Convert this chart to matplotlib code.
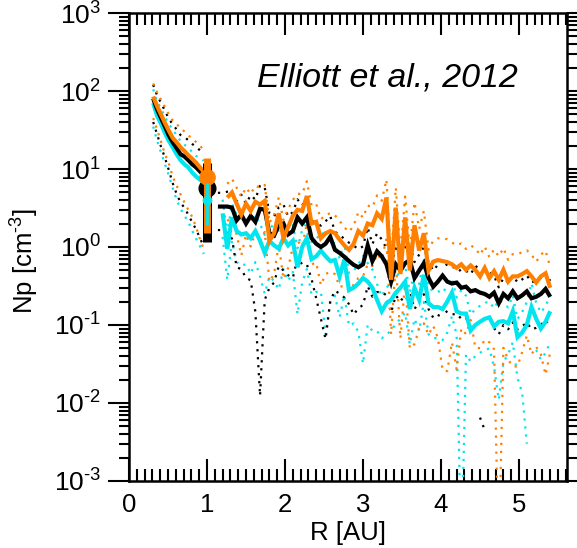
import numpy as np
import matplotlib
matplotlib.use('Agg')
import matplotlib.pyplot as plt
from matplotlib.ticker import LogLocator, MultipleLocator, FixedLocator, NullFormatter

plt.rcParams['font.family'] = ['Liberation Sans', 'DejaVu Sans']
plt.rcParams['mathtext.fontset'] = 'custom'
plt.rcParams['mathtext.rm'] = 'Liberation Sans'
plt.rcParams['mathtext.it'] = 'Liberation Sans:italic'
plt.rcParams['mathtext.default'] = 'regular'

nan = np.nan

# ---------------- data ----------------
# inner heliosphere segment
R_in = [0.31, 0.36, 0.41, 0.46, 0.51, 0.56, 0.61, 0.66, 0.71, 0.76, 0.81, 0.86, 0.91, 0.96]
orange_in = [85, 64, 50, 39, 31, 25, 22, 19, 17, 15, 13.5, 12, 10.5, 9.2]
black_in = [80, 58, 45, 35, 27, 22, 18.5, 15.5, 14.5, 13, 11.5, 10.5, 9.3, 8.3]
cyan_in = [70, 48, 38, 29, 23, 19, 15.5, 13, 11.5, 10.5, 9, 8, 7.3, 6.8]
orange_in_rel = [0.47, 0.5, 0.55, 0.6, 0.62, 0.68, 0.72, 0.75, 0.78, 0.8, 0.82, 0.85, 0.88, 0.9]
black_in_rel = [0.5, 0.52, 0.57, 0.6, 0.64, 0.7, 0.74, 0.76, 0.78, 0.8, 0.82, 0.84, 0.86, 0.88]
cyan_in_rel = [0.5, 0.52, 0.57, 0.6, 0.64, 0.7, 0.74, 0.76, 0.78, 0.8, 0.82, 0.84, 0.86, 0.88]

# values at 1 AU (centre, low, high)
R_1au = 1.0
black_1au = [5.7, 1.17, 12.0]
orange_1au = [8.0, 1.5, 13.8]
cyan_1au = [4.0, 1.9, 6.7]

# outer segment
R_out = [1.14, 1.20, 1.26, 1.32, 1.38, 1.44, 1.50, 1.56, 1.62, 1.68,
         1.74, 1.80, 1.86, 1.92, 1.98, 2.04, 2.10, 2.16, 2.22, 2.28,
         2.34, 2.40, 2.46, 2.52, 2.58, 2.64, 2.70, 2.76, 2.82, 2.88,
         2.94, 3.00, 3.06, 3.12, 3.18, 3.24, 3.30, 3.36, 3.42, 3.48,
         3.54, 3.60, 3.66, 3.72, 3.78, 3.84, 3.90, 3.96, 4.02, 4.08,
         4.14, 4.20, 4.26, 4.32, 4.38, 4.44, 4.50, 4.56, 4.62, 4.68,
         4.74, 4.80, 4.86, 4.92, 4.98, 5.04, 5.10, 5.16, 5.22, 5.28,
         5.34, 5.40]
black_out = [3.3, 3.3, 3.3, 3.2, 2.2, 2.6, 2.0, 2.5, 2.1, 3.1,
             3.0, 1.5, 1.4, 1.9, 2.0, 1.45, 1.6, 2.4, 2.0, 2.4,
             1.3, 1.1, 1.0, 1.1, 1.35, 0.92, 0.84, 0.75, 0.66, 0.59,
             0.55, 0.6, 1.05, 0.66, 0.88, 0.76, 0.6, 0.36, 0.6, 0.5,
             0.62, 0.68, 0.4, 0.5, 0.62, 0.4, 0.31, 0.36, 0.43, 0.36,
             0.34, 0.35, 0.30, 0.31, 0.27, 0.28, 0.26, 0.25, 0.23, 0.26,
             0.19, 0.25, 0.22, 0.27, 0.22, 0.24, 0.27, 0.22, 0.23, 0.25,
             0.29, 0.23]
orange_out = [nan, nan, 4.3, 5.0, 3.6, 2.6, 3.6, 2.9, 3.8, 3.5,
              3.9, 1.2, 1.5, 2.7, 1.3, 1.8, 2.5, 3.0, 2.9, 4.5,
              2.0, 2.1, 1.3, 1.5, 1.6, 1.5, 1.24, 1.05, 0.92, 1.1,
              1.6, 1.4, 2.0, 1.9, 2.7, 2.3, 4.3, 0.38, 3.2, 0.45,
              2.4, 0.5, 1.9, 0.9, 1.5, 0.5, 0.65, 0.68, 0.66, 0.64,
              0.6, 0.54, 0.6, 0.51, 0.58, 0.51, 0.42, 0.54, 0.40, 0.49,
              0.38, 0.51, 0.36, 0.42, 0.42, 0.45, 0.49, 0.42, 0.35, 0.42,
              0.46, 0.30]
cyan_out = [nan, 2.7, 0.95, 2.4, 1.6, 1.45, 1.5, 1.3, 1.6, 1.2,
            0.84, 1.2, 1.05, 0.95, 1.3, 1.05, 1.2, 0.55, 1.0, 1.3,
            0.7, 0.76, 0.9, 0.76, 0.66, 0.68, 0.42, 0.69, 0.28, 0.30,
            0.34, 0.40, 0.36, 0.30, 0.21, 0.15, 0.19, 0.21, 0.26, 0.30,
            0.36, 0.16, 0.30, 0.21, 0.44, 0.19, 0.17, 0.17, 0.16, 0.20,
            0.26, 0.15, 0.14, 0.14, 0.085, 0.10, 0.11, 0.12, 0.125, 0.096,
            0.11, 0.112, 0.105, 0.15, 0.07, 0.08, 0.10, 0.17, 0.12, 0.09,
            0.11, 0.15]
# relative standard deviation (dotted = mean +/- sigma)
black_out_rel = [.5, .5, .55, .6, .75, .8, .8, .85, .93, .996,
                 .93, .8, .75, .7, .75, .7, .75, .7, .7, .75,
                 .7, .8, .88, .94, .85, .7, .7, .7, .72, .77,
                 .7, .7, .7, .65, .7, .65, .6, .6, .6, .6,
                 .6, .6, .6, .6, .6, .6, .6, .65, .6, .6,
                 .6, .6, .6, .6, .65, 1.05, .975, .982, 1.05, .65,
                 .6, .6, .6, .6, .6, .6, .6, .6, .6, .6,
                 .6, .6]
orange_out_rel = [.5, .5, .5, .5, .6, .7, .6, .65, .6, .65,
                  .6, .7, .7, .6, .7, .7, .6, .6, .65, .55,
                  .7, .7, .75, .7, .7, .7, .75, .7, .7, .7,
                  .75, .7, .7, .7, .7, .7, .7, .8, .8, .85,
                  .85, .9, .97, .9, .93, .85, .85, .9, .96, .96,
                  .9, .95, .85, .85, .8, .9, .88, .88, .85, .9,
                  .99974, .9, .9, .93, .93, .9, .85, .9, .85, .9,
                  .95, .85]
cyan_out_rel = [.5, .5, .6, .5, .6, .6, .6, .65, .6, .65,
                .7, .65, .65, .7, .6, .65, .6, .75, .65, .6,
                .65, .65, .7, .9, .7, .65, .7, .65, .65, .65,
                .76, .92, .72, .72, .6, .55, .6, .6, .6, .6,
                .6, .65, .6, .6, .55, .6, .6, .6, .6, .6,
                .5, .5, .9993, .7, .6, .6, .6, .6, .6, .7,
                .9, .7, .6, .6, .7, .83, .97, 1.02, .6, .6,
                .6, .6]

x_ticks = [0, 1, 2, 3, 4, 5]
x_ticklabels = ['0', '1', '2', '3', '4', '5']
y_ticks = [1e-3, 1e-2, 1e-1, 1e0, 1e1, 1e2, 1e3]
y_ticklabels = [r'$10^{\text{-}3}$', r'$10^{\text{-}2}$', r'$10^{\text{-}1}$', r'$10^{0}$',
                r'$10^{1}$', r'$10^{2}$', r'$10^{3}$']

ORANGE = '#FF8000'
CYAN = '#00E5EE'
BLACK = '#000000'

# ---------------- figure ----------------
fig = plt.figure(figsize=(5.77, 5.48), dpi=100)
ax = fig.add_axes([129 / 577, 67 / 548, 438 / 577, 468 / 548])
ax.set_yscale('log')


def draw(R, mean, rel, color, z):
    mean = np.asarray(mean, float)
    rel = np.asarray(rel, float)
    up = mean * (1 + rel)
    lo = mean * (1 - rel)
    lo = np.where(lo > 0, lo, np.nan)
    for b in (up, lo):
        ax.plot(R, b, color=color, lw=1.6, ls=(0, (1, 2.6)),
                dash_capstyle='butt', zorder=z)
    ax.plot(R, mean, color=color, lw=3, zorder=z + 3,
            solid_joinstyle='miter', solid_capstyle='butt')


draw(R_in, cyan_in, cyan_in_rel, CYAN, 2)
draw(R_in, black_in, black_in_rel, BLACK, 2.1)
draw(R_in, orange_in, orange_in_rel, ORANGE, 2.2)
draw(R_out, cyan_out, cyan_out_rel, CYAN, 2)
draw(R_out, black_out, black_out_rel, BLACK, 2.1)
draw(R_out, orange_out, orange_out_rel, ORANGE, 2.2)

# 1 AU values
for vals, col, blw, ms, z in ((black_1au, BLACK, 6.5, 12, 10),
                              (orange_1au, ORANGE, 5, 11, 11),
                              (cyan_1au, CYAN, 2, 6, 12)):
    ax.plot([R_1au, R_1au], [vals[1], vals[2]], color=col, lw=blw,
            solid_capstyle='butt', zorder=z)
    ax.plot([R_1au], [vals[0]], 'o', color=col, ms=ms, mec=col, zorder=z)

ax.set_xlim(0, 5.615)
ax.set_ylim(1e-3, 1e3)

ax.xaxis.set_major_locator(FixedLocator(x_ticks))
ax.set_xticklabels(x_ticklabels)
ax.xaxis.set_minor_locator(MultipleLocator(0.1))
ax.set_yticks(y_ticks)
ax.set_yticklabels(y_ticklabels)
ax.yaxis.set_minor_locator(LogLocator(base=10, subs=np.arange(2, 10), numticks=30))
ax.yaxis.set_minor_formatter(NullFormatter())

ax.tick_params(axis='x', which='both', direction='in', top=True, bottom=True,
               width=1.5, colors='black')
ax.tick_params(axis='x', which='major', length=16, pad=9, labelsize=18.5)
ax.tick_params(axis='x', which='minor', length=8.5)
ax.tick_params(axis='y', which='both', direction='out', left=True, right=True,
               width=1.5)
ax.tick_params(axis='y', which='major', length=15, pad=5, labelsize=19)
ax.tick_params(axis='y', which='minor', length=7)

for s in ax.spines.values():
    s.set_linewidth(1.8)

ax.set_xlabel('R [AU]', fontsize=18.5)
ax.set_ylabel(r'Np [cm$^{\text{-}3}$]', fontsize=18.5)
ax.xaxis.set_label_coords(0.5, -0.085)
ax.yaxis.set_label_coords(-0.20, 0.47)

ax.text(0.292, 0.844, 'Elliott et al., 2012', transform=ax.transAxes,
        fontsize=24.5, style='italic', ha='left', va='baseline')

fig.savefig('out.png', dpi=100)
